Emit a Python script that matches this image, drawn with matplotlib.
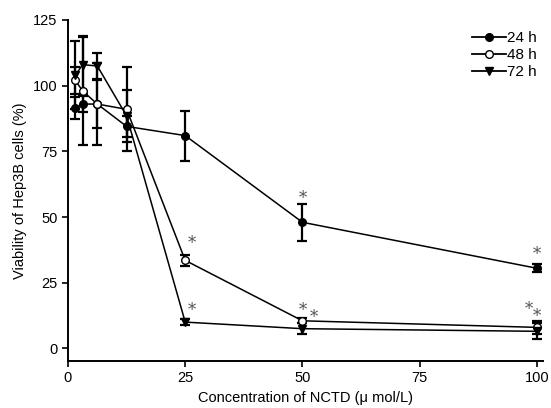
import matplotlib
matplotlib.use("Agg")
import matplotlib.pyplot as plt
from matplotlib.lines import Line2D

conc = [1.56, 3.125, 6.25, 12.5, 25, 50, 100]
v24 = [91.5, 93.0, 93.0, 84.5, 81.0, 48.0, 30.5]
e24 = [4.0, 3.0, 9.0, 4.0, 9.5, 7.0, 1.5]
v48 = [102.0, 98.0, 93.0, 91.0, 33.5, 10.5, 8.0]
e48 = [5.0, 20.5, 15.5, 16.0, 2.0, 1.0, 2.5]
v72 = [104.0, 108.0, 107.5, 88.5, 10.0, 7.5, 6.5]
e72 = [13.0, 11.0, 5.0, 10.0, 1.0, 2.0, 3.0]
labels = ["24 h", "48 h", "72 h"]
xticks = [0, 25, 50, 75, 100]
yticks = [0, 25, 50, 75, 100, 125]
# asterisk annotations (x, y)
stars_x = [50, 100, 26.4, 26.4, 50, 52.5, 100, 98.3]
stars_y = [57, 35.6, 39.8, 14.3, 14.6, 11.8, 12.0, 14.8]

plt.rcParams['font.family'] = ['Liberation Sans', 'DejaVu Sans']

fig = plt.figure(figsize=(5.51, 4.08), dpi=100)
ax = fig.add_axes([0.1234, 0.1152, 0.862, 0.8358])

common = dict(color='black', ecolor='black', elinewidth=1.6, capsize=3.8,
              capthick=1.6, linewidth=1.1, markersize=5.5)
ax.errorbar(conc, v24, yerr=e24, marker='o', mfc='black', mec='black', **common)
ax.errorbar(conc, v48, yerr=e48, marker='o', mfc='white', mec='black', **common)
ax.errorbar(conc, v72, yerr=e72, marker='v', mfc='black', mec='black', **common)

for sx, sy in zip(stars_x, stars_y):
    ax.text(sx, sy, '*', ha='center', va='center', fontsize=12,
            color='#555555', family='DejaVu Serif')

ax.set_xlim(0, 101.3)
ax.set_ylim(-4.8, 125)
ax.set_xticks(xticks)
ax.set_yticks(yticks)
ax.spines['top'].set_visible(False)
ax.spines['right'].set_visible(False)
ax.spines['left'].set_linewidth(1.4)
ax.spines['bottom'].set_linewidth(1.4)
ax.tick_params(direction='out', length=4, width=1.2, labelsize=10.5)
ax.set_xlabel('Concentration of NCTD (\u03bc mol/L)', fontsize=10.5)
ax.set_ylabel('Viability of Hep3B cells (%)', fontsize=10.5)

handles = [
    Line2D([], [], color='black', lw=1.3, marker='o', mfc='black', mec='black', ms=5.5),
    Line2D([], [], color='black', lw=1.3, marker='o', mfc='white', mec='black', ms=5.5),
    Line2D([], [], color='black', lw=1.3, marker='v', mfc='black', mec='black', ms=5.5),
]
ax.legend(handles, labels, loc='upper right', frameon=False, fontsize=11,
          handlelength=2.2, handletextpad=0.1, labelspacing=0.2,
          borderaxespad=0.0, bbox_to_anchor=(1.0, 0.985))

fig.savefig('out.png', dpi=100)
